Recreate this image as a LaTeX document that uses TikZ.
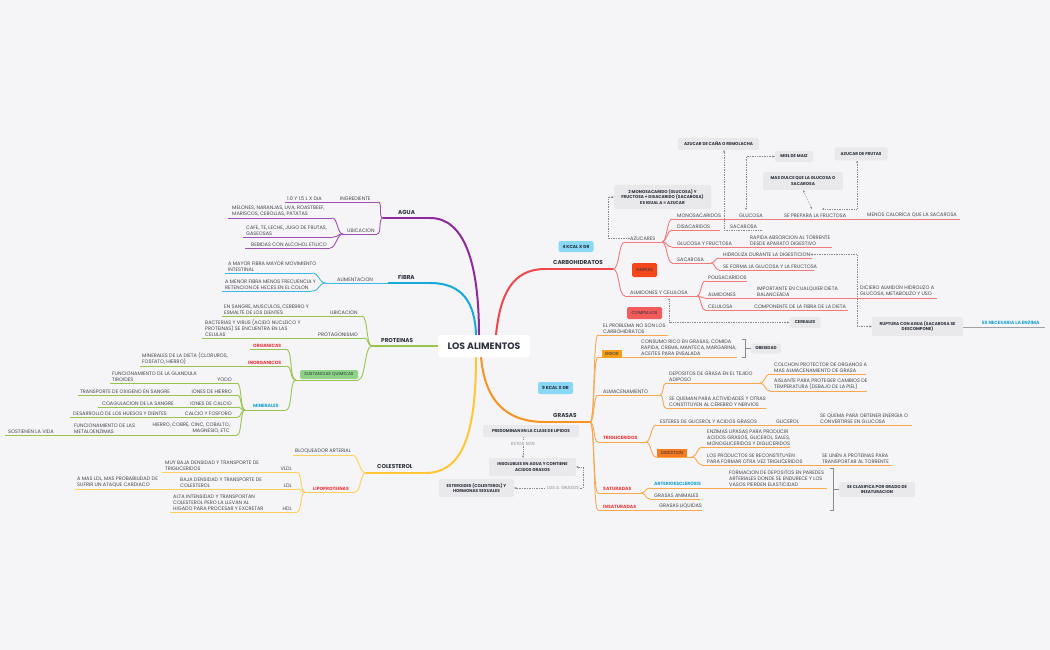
\documentclass[tikz,border=0pt]{standalone}
\usepackage{fontspec}
\setmainfont{Poppins}
\usetikzlibrary{arrows.meta}
\definecolor{bg}{HTML}{F5F5F7}
\definecolor{tx}{HTML}{42454C}
\definecolor{dk}{HTML}{2C313C}
\definecolor{purp}{HTML}{8C2C9C}
\definecolor{purpl}{HTML}{A050B4}
\definecolor{blu}{HTML}{16A9DC}
\definecolor{blul}{HTML}{3CB8E4}
\definecolor{grn}{HTML}{98C34C}
\definecolor{yel}{HTML}{FFC636}
\definecolor{yell}{HTML}{FFD05A}
\definecolor{cred}{HTML}{F0474B}
\definecolor{credl}{HTML}{F27A7A}
\definecolor{cor}{HTML}{F7931E}
\definecolor{corl}{HTML}{F9A84D}
\definecolor{boxg}{HTML}{E9E9EB}
\definecolor{relg}{HTML}{8A8A8E}
\definecolor{lblred}{HTML}{F0383B}
\definecolor{lblblue}{HTML}{1AA3D6}
\definecolor{kblue}{HTML}{88D8F6}
\definecolor{sgreen}{HTML}{8DD488}
\definecolor{simpc}{HTML}{F4471C}
\definecolor{complc}{HTML}{F45B5B}
\definecolor{errc}{HTML}{F8A01A}
\definecolor{digc}{HTML}{F57A20}
\pgfdeclarelayer{back}
\pgfdeclarelayer{lines}
\pgfsetlayers{back,lines,main}
\newcommand\mmul[5]{\coordinate (#2-l) at (#3,#5);\coordinate (#2-r) at (#4,#5);\draw[#1] (#2-l) -- (#2-r);}
\newcommand\mmcn[4]{\draw[#1] (#2) .. controls +(#4,0) and +(-#4,0) .. (#3);}
\tikzset{
  lbl/.style={font=\fontsize{5.0}{6}\selectfont, text=tx, inner sep=0pt, anchor=south west, align=left},
  lble/.style={lbl, anchor=south east, align=right},
  ttl/.style={font=\fontsize{5.7}{7}\selectfont\bfseries, text=dk, inner sep=0pt, anchor=south west},
  lred/.style={font=\fontsize{4.6}{5}\selectfont\bfseries, text=lblred, inner sep=0pt, anchor=south west},
  lblue/.style={font=\fontsize{4.6}{5}\selectfont\bfseries, text=lblblue, inner sep=0pt, anchor=south west},
  gbox/.style={fill=boxg, rounded corners=2pt, font=\fontsize{4.2}{5.6}\selectfont\bfseries, text=dk, align=center, inner sep=0pt},
  cbox/.style={rounded corners=1.5pt, font=\fontsize{4.4}{5.4}\selectfont, text=dk, align=center, inner sep=0pt},
  kbox/.style={fill=kblue, rounded corners=2pt, font=\fontsize{4.4}{5}\selectfont\bfseries, text=dk, inner sep=0pt},
  gtxt/.style={font=\fontsize{4.4}{5}\selectfont, text=relg, inner sep=0.8pt, fill=bg},
  sz/.style 2 args={minimum width=#1, minimum height=#2},
  relB/.style={draw=relg, line width=0.55pt, dash pattern=on 0.7pt off 1pt, arrows={Stealth[length=2.4pt,width=2.2pt]-Stealth[length=2.4pt,width=2.2pt]}},
  relE/.style={draw=relg, line width=0.55pt, dash pattern=on 0.7pt off 1pt, arrows={-Stealth[length=2.4pt,width=2.2pt]}},
  brk/.style={draw=relg, line width=0.7pt},
  Lpm/.style={draw=purp, line width=2pt},
  Lpl/.style={draw=purpl, line width=0.9pt},
  Lbm/.style={draw=blu, line width=2pt},
  Lbl/.style={draw=blul, line width=0.9pt},
  Lgm/.style={draw=grn, line width=2pt},
  Lgl/.style={draw=grn, line width=0.9pt},
  Lym/.style={draw=yel, line width=2pt},
  Lyl/.style={draw=yell, line width=0.9pt},
  Lrm/.style={draw=cred, line width=2pt},
  Lrl/.style={draw=credl, line width=0.9pt},
  Lom/.style={draw=cor, line width=2pt},
  Lol/.style={draw=corl, line width=0.9pt},
  rootn/.style={fill=white, rounded corners=3pt, font=\fontsize{9.3}{11}\selectfont\bfseries, text=dk, inner sep=0pt}
}
\begin{document}
\begin{tikzpicture}[x=1pt,y=-1pt]
\begin{pgfonlayer}{back}
\fill[bg] (0,0) rectangle (1050,650);
\end{pgfonlayer}
\useasboundingbox (0,0) rectangle (1050,650);

% ---------- root ----------
\node[rootn, sz={92pt}{22pt}] (root) at (484,346) {LOS ALIMENTOS};
\coordinate (rA) at (479,335);
\coordinate (rB) at (476,335);
\coordinate (rC) at (496,335);
\coordinate (rD) at (476,357);
\coordinate (rE) at (481,357);

% ---------- AGUA ----------
\node[ttl] (agua) at (398,214.5) {AGUA};
\node[lbl] (dia) at (287,200.5) {1.0 Y 1.5 L X DIA};
\node[lbl] (ingr) at (340,200.5) {INGREDIENTE};
\node[lbl] (ubica) at (347,232.5) {UBICACION};
\node[lbl] (mel) at (232,216.5) {MELONES, NARANJAS, UVA, ROASTBEEF,\\MARISCOS, CEBOLLAS, PATATAS};
\node[lbl] (cafe) at (246,235.5) {CAFE, TE, LECHE, JUGO DE FRUTAS,\\GASEOSAS};
\node[lbl] (beb) at (251,246.5) {BEBIDAS  CON ALCOHOL ETILICO};

% ---------- FIBRA ----------
\node[ttl] (fibra) at (398,279.5) {FIBRA};
\node[lbl] (alim) at (337,281.5) {ALIMENTACION};
\node[lbl] (fib1) at (228,271.5) {A MAYOR FIBRA MAYOR MOVIMIENTO\\INTESTINAL};
\node[lbl] (fib2) at (225,289.5) {A MENOR FIBRA MENOS FRECUENCIA Y\\RETENCION DE HECES EN EL COLON};

% ---------- PROTEINAS ----------
\node[ttl] (prot) at (381,342.5) {PROTEINAS};
\node[lbl] (ubicb) at (330,314.5) {UBICACION};
\node[lbl] (sang) at (224,314.5) {EN SANGRE, MUSCULOS, CEREBRO Y\\ESMALTE DE LOS DIENTES};
\node[lbl] (protag) at (318,336.5) {PROTAGONISMO};
\node[lbl] (bact) at (205,336.5) {BACTERIAS Y VIRUS (ACIDO NUCLEICO Y\\PROTEINAS) SE ENCUENTRA EN LAS\\CELULAS};
\node[cbox, fill=sgreen, sz={58pt}{9pt}] (susq) at (329,374.5) {SUSTANCIAS QUIMICAS};
\node[lred] (org) at (253,347.5) {ORGANICAS};
\node[lred] (inorg) at (248,364.5) {INORGANICOS};
\node[lbl] (minda) at (142,364.5) {MINERALES DE LA DIETA (CLORUROS,\\FOSFATO, HIERRO)};
\node[lblue] (minr) at (253,408) {MINERALES};
\node[lble] (yodo) at (232,381.5) {YODO};
\node[lbl] (tiro) at (112,381.5) {FUNCIONAMIENTO DE LA GLANDULA\\TIROIDES};
\node[lble] (hier) at (232,393.5) {IONES DE HIERRO};
\node[lbl] (oxig) at (80,393.5) {TRANSPORTE DE OXIGENO EN SANGRE};
\node[lble] (calc) at (232,405.5) {IONES DE CALCIO};
\node[lbl] (coag) at (102,405.5) {COAGULACION DE LA SANGRE};
\node[lble] (cafo) at (232,416) {CALCIO Y FOSFORO};
\node[lbl] (hues) at (73,416) {DESARROLLO DE LOS HUESOS Y DIENTES};
\node[lble] (hcob) at (230,433.5) {HIERRO, COBRE, CINC, COBALTO,\\MAGNESIO, ETC};
\node[lbl] (meta) at (74,433.5) {FUNCIONAMIENTO DE LAS\\METALOENZIMAS};
\node[lbl] (vida) at (8,433.5) {SOSTIENEN LA VIDA};

% ---------- COLESTEROL ----------
\node[ttl] (col) at (377,469) {COLESTEROL};
\node[lbl] (bloq) at (295,453.5) {BLOQUEADOR ARTERIAL};
\node[lred] (lipo) at (313,490.5) {LIPOPROTEINAS};
\node[lble] (vldl) at (292,470.5) {VLDL};
\node[lbl] (vldlt) at (165,470.5) {MUY BAJA DENSIDAD Y TRANSPORTE DE\\TRIGLICERIDOS};
\node[lble] (ldl) at (292,487.5) {LDL};
\node[lbl] (ldlt) at (180,487.5) {BAJA DENSIDAD Y TRANSPORTE DE\\COLESTEROL};
\node[lbl] (ldlc) at (77,487.5) {A MAS LDL, MAS PROBABILIDAD DE\\SUFRIR UN ATAQUE CARDIACO};
\node[lble] (hdl) at (292,510.5) {HDL};
\node[lbl] (hdlt) at (173,510.5) {ALTA INTENSIDAD Y TRANSPORTAN\\COLESTEROL PERO LA LLEVAN AL\\HIGADO PARA PROCESAR Y EXCRETAR};

% ---------- CARBOHIDRATOS ----------
\node[ttl] (carb) at (553,264.5) {CARBOHIDRATOS};
\node[kbox, sz={35pt}{11pt}] (k4) at (576,246.5) {4 KCAL X GR};
\node[lbl] (azuc) at (630,240.5) {AZUCARES};
\node[lbl] (mono) at (677,217.5) {MONOSACARIDOS};
\node[lbl] (gluc) at (739,217.5) {GLUCOSA};
\node[lbl] (fruc) at (784,217.5) {SE PREPARA LA FRUCTOSA};
\node[lbl] (menos) at (867,217.5) {MENOS CALORICA QUE LA SACAROSA};
\node[lbl] (disa) at (677,228.5) {DISACARIDOS};
\node[lbl] (sac1) at (730,228.5) {SACAROSA};
\node[lbl] (gyf) at (677,245.5) {GLUCOSA Y FRUCTOSA};
\node[lbl] (rapi) at (750,245.5) {RAPIDA ABSORCION AL TORRENTE\\DESDE APARATO DIGESTIVO};
\node[lbl] (saca) at (677,261.5) {SACAROSA};
\node[lbl] (hidr) at (723,256.5) {HIDROLIZA DURANTE LA DIGESTICION};
\node[lbl] (sefo) at (723,268.5) {SE FORMA LA GLUCOSA Y LA FRUCTOSA};
\node[cbox, fill=simpc, sz={25pt}{14pt}] (simp) at (644.5,270) {SIMPLES};
\node[lbl] (almc) at (630,294.5) {ALMIDONES Y CELULOSA};
\node[lbl] (poli) at (708,279.5) {POLISACARIDOS};
\node[lbl] (almi) at (708,296.5) {ALMIDONES};
\node[lbl] (impo) at (757,296.5) {IMPORTANTE EN CUALQUIER DIETA\\BALANCEADA};
\node[lbl] (dici) at (860,296.5) {DICIERO ALMIDON HIDROLIZO A\\GLUCOSA, METABOLIZO Y USO};
\node[lbl] (celu) at (708,308.5) {CELULOSA};
\node[lbl] (comp) at (754,308.5) {COMPONENTE DE LA FIBRA DE LA DIETA};
\node[cbox, fill=complc, sz={35pt}{12pt}] (cmpl) at (644.5,313) {COMPLEJOS};
\node[gbox, sz={97pt}{24pt}] (mono2) at (662.5,197) {2 MONOSACARIDO (GLUCOSA) Y\\FRUCTOSA + DISACARIDO (SACAROSA)\\ES IGUAL A = AZUCAR};
\node[gbox, sz={81pt}{12pt}] (cana) at (718.5,144) {AZUCAR DE CAÑA O REMOLACHA};
\node[gbox, sz={38pt}{11pt}] (miel) at (794,156.5) {MIEL DE MAIZ};
\node[gbox, sz={53pt}{13pt}] (fruta) at (861,154) {AZUCAR DE FRUTAS};
\node[gbox, sz={80pt}{18pt}] (dulce) at (803,181) {MAS DULCE QUE LA GLUCOSA O\\SACAROSA};
\node[gbox, sz={31pt}{11pt}] (cereal) at (805,322.5) {CEREALES};
\node[gbox, sz={91pt}{19pt}] (rupt) at (917.5,326.5) {RUPTURA CON AGUA (SACAROSA SE\\DESCOMPONE)};
\node[lblue] (enz) at (982,325) {ES NECESARIA LA ENZIMA};

% ---------- GRASAS ----------
\node[ttl] (gras) at (553,418) {GRASAS};
\node[kbox, sz={35pt}{12pt}] (k9) at (555.5,388) {9 KCAL X GR};
\node[lbl] (prob) at (603,333.5) {EL PROBLEMA NO SON LOS\\CARBOHIDRATOS};
\node[cbox, fill=errc, sz={20pt}{8pt}, rounded corners=0pt] (err) at (612,353.5) {ERROR};
\node[lbl] (cons) at (641,355.5) {CONSUMO RICO EN GRASAS, COMIDA\\RAPIDA, CREMA, MANTECA, MARGARINA,\\ACEITES PARA ENSALADA};
\node[gbox, sz={30pt}{10pt}] (obes) at (766,348.5) {OBESIDAD};
\node[lbl] (alma) at (603,393.5) {ALMACENAMIENTO};
\node[lbl] (depo) at (669,381.5) {DEPOSITOS DE GRASA EN EL TEJIDO\\ADIPOSO};
\node[lbl] (colch) at (774,372.5) {COLCHON PROTECTOR DE ORGANOS A\\MAS ALMACENAMIENTO DE GRASA};
\node[lbl] (aisl) at (774,389.5) {AISLANTE PARA PROTEGER CAMBIOS DE\\TEMPERATURA (DEBAJO DE LA PIEL)};
\node[lbl] (quem) at (669,406.5) {SE QUEMAN PARA ACTIVIDADES Y OTRAS\\CONSTITUYEN AL CEREBRO Y NERVIOS};
\node[lred] (trig) at (603,440) {TRIGLICERIDOS};
\node[lbl] (este) at (660,423.5) {ESTERES DE GLICEROL Y ACIDOS GRASOS};
\node[lbl] (glic) at (776,423.5) {GLICEROL};
\node[lbl] (quema) at (820,423.5) {SE QUEMA PARA OBTENER ENERGIA O\\CONVERTIRSE EN GLUCOSA};
\node[cbox, fill=digc, sz={30pt}{8pt}, rounded corners=0pt] (dige) at (672,453) {DIGESTION};
\node[lbl] (enzi) at (707,445.5) {ENZIMAS LIPASAS PARA PRODUCIR\\ACIDOS GRASOS, GLICEROL, SALES,\\MONOGLICERIDOS Y DIGLICERIDOS};
\node[lbl] (prodc) at (707,463.5) {LOS PRODUCTOS SE RECONSTITUYEN\\PARA FORMAR OTRA VEZ TRIGLICERIDOS};
\node[lbl] (unen) at (822,463.5) {SE UNEN A PROTEINAS PARA\\TRANSPORTAR AL TORRENTE};
\node[lred] (satu) at (603,491) {SATURADAS};
\node[lblue] (arte) at (654,486) {ARTERIOESCLEROSIS};
\node[lbl] (form) at (729,486.5) {FORMACION DE DEPOSITOS EN PAREDES\\ARTERIALES DONDE SE ENDURECE Y LOS\\VASOS PIERDEN ELASTICIDAD};
\node[lbl] (gani) at (654,497.5) {GRASAS ANIMALES};
\node[lred] (insa) at (603,508.5) {INSATURADAS};
\node[lbl] (gliq) at (659,508.5) {GRASAS LIQUIDAS};
\node[gbox, sz={76pt}{15pt}] (clas) at (877,489.5) {SE CLASIFICA POR GRADO DE\\INSATURACION};
\node[gbox, sz={96pt}{12pt}] (pred) at (531,431) {PREDOMINAN EN LA CLASE DE LIPIDOS};
\node[gbox, sz={87pt}{18pt}] (inso) at (532.5,467) {INSOLUBLES EN AGUA Y CONTIENE\\ACIDOS GRASOS};
\node[gbox, sz={75pt}{18pt}] (ester) at (476.5,488) {ESTEROIDES (COLESTEROL) Y\\HORMONAS SEXUALES};

% ================= LINES =================
\begin{pgfonlayer}{lines}
% AGUA
\mmul{Lpl}{dia}{285}{337}{202}
\mmul{Lpl}{ingr}{337}{378}{202}
\mmul{Lpl}{ubica}{343}{377}{234}
\mmul{Lpl}{mel}{228}{332}{218}
\mmul{Lpl}{cafe}{243}{333}{237}
\mmul{Lpl}{beb}{245}{330}{248}
\mmul{Lpm}{agua}{383}{430}{218}
\mmcn{Lpl}{ingr-r}{agua-l}{5}
\mmcn{Lpl}{ubica-r}{agua-l}{5}
\mmcn{Lpl}{mel-r}{ubica-l}{6}
\mmcn{Lpl}{cafe-r}{ubica-l}{6}
\mmcn{Lpl}{beb-r}{ubica-l}{6}
\draw[Lpm] (agua-r) .. controls (464,218) and (479,262) .. (rA);
% FIBRA
\mmul{Lbl}{fib1}{225}{312}{273}
\mmul{Lbl}{fib2}{222}{312}{291}
\mmul{Lbl}{alim}{326}{388}{283}
\mmul{Lbm}{fibra}{388}{430}{283}
\mmcn{Lbl}{fib1-r}{alim-l}{8}
\mmcn{Lbl}{fib2-r}{alim-l}{8}
\draw[Lbm] (fibra-r) .. controls (462,283) and (475,302) .. (rB);
% PROTEINAS
\mmul{Lgl}{sang}{222}{318}{316}
\mmul{Lgl}{ubicb}{318}{362}{316}
\mmul{Lgl}{bact}{202}{310}{338}
\mmul{Lgl}{protag}{310}{364}{338}
\mmul{Lgl}{susq}{296}{358}{380}
\mmul{Lgl}{org}{250}{286}{349}
\mmul{Lgl}{minda}{140}{240}{366}
\mmul{Lgl}{inorg}{240}{286}{366}
\mmul{Lgl}{minr}{245}{286}{410}
\mmul{Lgl}{tiro}{110}{210}{383}
\mmul{Lgl}{yodo}{210}{237}{383}
\mmul{Lgl}{oxig}{78}{185}{395}
\mmul{Lgl}{hier}{185}{237}{395}
\mmul{Lgl}{coag}{98}{185}{407}
\mmul{Lgl}{calc}{185}{237}{407}
\mmul{Lgl}{hues}{70}{183}{417.5}
\mmul{Lgl}{cafo}{183}{237}{417.5}
\mmul{Lgl}{vida}{5}{70}{435}
\mmul{Lgl}{meta}{70}{150}{435}
\mmul{Lgl}{hcob}{150}{237}{435}
\coordinate (prot-l) at (372,346);
\draw[Lgm] (prot-l) -- (root.west);
\mmcn{Lgl}{ubicb-r}{prot-l}{6}
\mmcn{Lgl}{protag-r}{prot-l}{5}
\mmcn{Lgl}{susq-r}{prot-l}{8}
\mmcn{Lgl}{org-r}{susq-l}{7}
\mmcn{Lgl}{inorg-r}{susq-l}{7}
\mmcn{Lgl}{minr-r}{susq-l}{7}
\mmcn{Lgl}{yodo-r}{minr-l}{5}
\mmcn{Lgl}{hier-r}{minr-l}{5}
\mmcn{Lgl}{calc-r}{minr-l}{5}
\mmcn{Lgl}{cafo-r}{minr-l}{5}
\mmcn{Lgl}{hcob-r}{minr-l}{5}
% COLESTEROL
\mmul{Lyl}{bloq}{293}{352}{455}
\mmul{Lyl}{lipo}{305}{355}{492}
\mmul{Lyl}{vldlt}{162}{275}{472}
\mmul{Lyl}{vldl}{275}{297}{472}
\mmul{Lyl}{ldlc}{75}{175}{489}
\mmul{Lyl}{ldlt}{175}{275}{489}
\mmul{Lyl}{ldl}{275}{297}{489}
\mmul{Lyl}{hdlt}{170}{275}{512}
\mmul{Lyl}{hdl}{275}{297}{512}
\mmul{Lym}{col}{366}{425}{473}
\mmcn{Lyl}{bloq-r}{col-l}{7}
\mmcn{Lyl}{lipo-r}{col-l}{6}
\mmcn{Lyl}{vldl-r}{lipo-l}{5}
\mmcn{Lyl}{ldl-r}{lipo-l}{5}
\mmcn{Lyl}{hdl-r}{lipo-l}{5}
\draw[Lym] (col-r) .. controls (460,473) and (476,440) .. (rD);
% CARBOHIDRATOS
\mmul{Lrm}{carb}{545}{613}{269}
\draw[Lrm] (rC) .. controls (500,295) and (512,269) .. (carb-l);
\mmul{Lrl}{azuc}{625}{662}{242}
\mmul{Lrl}{almc}{625}{697}{296}
\mmcn{Lrl}{carb-r}{azuc-l}{7}
\mmcn{Lrl}{carb-r}{almc-l}{7}
\mmul{Lrl}{mono}{672}{735}{219}
\mmul{Lrl}{gluc}{735}{780}{219}
\mmul{Lrl}{fruc}{780}{862}{219}
\mmul{Lrl}{menos}{862}{960}{219}
\mmul{Lrl}{disa}{672}{720}{230}
\mmul{Lrl}{gyf}{672}{746}{247}
\mmul{Lrl}{rapi}{746}{832}{247}
\mmul{Lrl}{saca}{672}{711}{263}
\mmul{Lrl}{hidr}{719}{812}{258}
\mmul{Lrl}{sefo}{719}{814}{270}
\mmul{Lrl}{poli}{705}{747}{281}
\mmul{Lrl}{almi}{705}{752}{298}
\mmul{Lrl}{impo}{752}{855}{298}
\mmul{Lrl}{dici}{855}{937}{298}
\mmul{Lrl}{celu}{705}{750}{310}
\mmul{Lrl}{comp}{750}{848}{310}
\mmcn{Lrl}{azuc-r}{mono-l}{5}
\mmcn{Lrl}{azuc-r}{disa-l}{5}
\mmcn{Lrl}{azuc-r}{gyf-l}{5}
\mmcn{Lrl}{azuc-r}{saca-l}{5}
\mmcn{Lrl}{saca-r}{hidr-l}{4}
\mmcn{Lrl}{saca-r}{sefo-l}{4}
\mmcn{Lrl}{almc-r}{poli-l}{4}
\mmcn{Lrl}{almc-r}{almi-l}{4}
\mmcn{Lrl}{almc-r}{celu-l}{4}
% relationships (carbohidratos)
\coordinate (sacR) at (762,230);
\coordinate (sacd) at (724,230);
\draw[relE] (sacR) -- (sacd) -- (cana.south -| sacd);
\coordinate (glucd) at (746,210);
\draw[relB] (glucd) |- (miel.west);
\coordinate (frucd) at (822,209);
\coordinate (frucx) at (857,209);
\draw[relB] (frucd) -- (frucx) -- (fruta.south -| frucx);
\coordinate (frucd2) at (812,209);
\draw[relB] (frucd2) -- (dulce.south);
\coordinate (m2c) at (608,238);
\draw[relB] (azuc.west) -- (azuc.west -| m2c) |- (mono2.west);
\coordinate (cerd) at (669,298);
\draw[relB] (cerd) |- (cereal.west);
\coordinate (hd1) at (857,255);
\draw[relB] (hidr.east) -- (hidr.east -| hd1) |- (rupt.west);
\coordinate (enz-r) at (1045,327);
\draw[draw=relg!80, line width=0.9pt] (rupt.east |- enz-r) -- (enz-r);
% GRASAS
\mmul{Lom}{gras}{545}{590}{422}
\draw[Lom] (rE) .. controls (485,400) and (505,422) .. (gras-l);
\mmul{Lol}{prob}{598}{668}{335}
\mmul{Lol}{err}{598}{636}{357}
\mmul{Lol}{cons}{636}{737}{357}
\mmul{Lol}{alma}{598}{660}{395}
\mmul{Lol}{depo}{666}{760}{383}
\mmul{Lol}{quem}{666}{766}{408}
\mmul{Lol}{colch}{770}{866}{374}
\mmul{Lol}{aisl}{770}{867}{391}
\mmul{Lol}{trig}{598}{646}{442}
\mmul{Lol}{este}{656}{770}{425}
\mmul{Lol}{glic}{770}{815}{425}
\mmul{Lol}{quema}{815}{912}{425}
\mmul{Lol}{dige}{656}{692}{457}
\mmul{Lol}{enzi}{702}{790}{447}
\mmul{Lol}{prodc}{702}{815}{465}
\mmul{Lol}{unen}{815}{892}{465}
\mmul{Lol}{satu}{598}{641}{493}
\mmul{Lol}{arte}{650}{724}{488}
\mmul{Lol}{form}{724}{827}{488}
\mmul{Lol}{gani}{650}{700}{499}
\mmul{Lol}{insa}{598}{650}{510}
\mmul{Lol}{gliq}{650}{702}{510}
\mmcn{Lol}{gras-r}{prob-l}{5}
\mmcn{Lol}{gras-r}{err-l}{5}
\mmcn{Lol}{gras-r}{alma-l}{5}
\mmcn{Lol}{gras-r}{trig-l}{5}
\mmcn{Lol}{gras-r}{satu-l}{5}
\mmcn{Lol}{gras-r}{insa-l}{5}
\mmcn{Lol}{alma-r}{depo-l}{4}
\mmcn{Lol}{alma-r}{quem-l}{4}
\mmcn{Lol}{depo-r}{colch-l}{5}
\mmcn{Lol}{depo-r}{aisl-l}{5}
\mmcn{Lol}{trig-r}{este-l}{5}
\mmcn{Lol}{trig-r}{dige-l}{5}
\mmcn{Lol}{dige-r}{enzi-l}{5}
\mmcn{Lol}{dige-r}{prodc-l}{5}
\mmcn{Lol}{satu-r}{arte-l}{5}
\mmcn{Lol}{satu-r}{gani-l}{5}
% brackets
\coordinate (b1a) at (742,339);
\coordinate (b1b) at (745,339);
\coordinate (b1c) at (745,357);
\coordinate (b1d) at (742,357);
\coordinate (b1m) at (745,348.5);
\draw[brk] (b1a) -- (b1b) -- (b1c) -- (b1d);
\draw[brk] (b1m) -- (obes.west);
\coordinate (b2a) at (830,468);
\coordinate (b2b) at (833,468);
\coordinate (b2c) at (833,510);
\coordinate (b2d) at (830,510);
\coordinate (b2m) at (833,489.5);
\draw[brk] (b2a) -- (b2b) -- (b2c) -- (b2d);
\draw[brk] (b2m) -- (clas.west);
% lipid relationships
\coordinate (esd) at (523,440);
\draw[relE] (pred.south -| esd) -- (inso.north -| esd);
\coordinate (lagc) at (583,470);
\draw[relB] (inso.east) -- (inso.east -| lagc) -- (ester.east -| lagc) -- (ester.east);
\end{pgfonlayer}
\node[gtxt] (estos) at (523,443.5) {ESTOS SON};
\node[gtxt] (lag) at (563,488) {LOS A. GRASOS};
\end{tikzpicture}
\end{document}
